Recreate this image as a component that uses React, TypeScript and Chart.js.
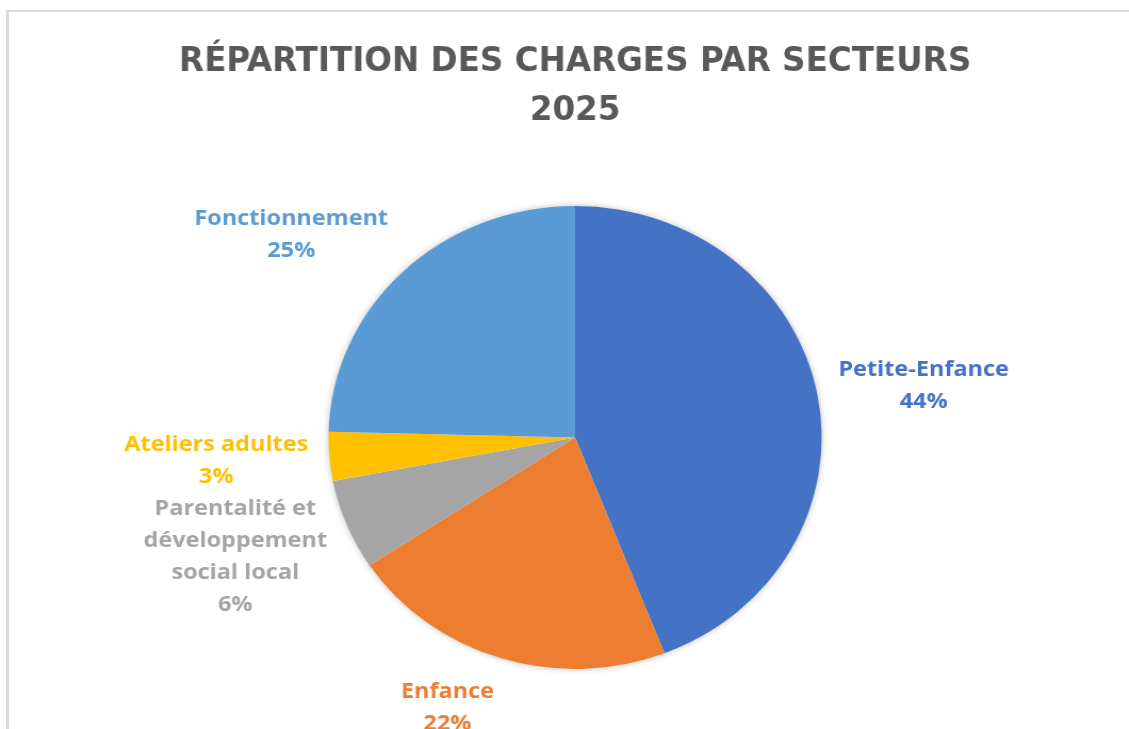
import React, { useEffect, useRef } from 'react';
import { Chart, registerables } from 'chart.js';

Chart.register(...registerables);

// ---- Data ----
const categories: (string | string[])[] = [
  'Petite-Enfance',
  'Enfance',
  ['Parentalité et', 'développement', 'social local'],
  'Ateliers adultes',
  'Fonctionnement',
];
const shares: number[] = [44.1, 21.6, 6.3, 3.4, 24.6];
const sliceColors: string[] = ['#4472C4', '#ED7D31', '#A5A5A5', '#FFC000', '#5B9BD5'];
const titleLines: string[] = ['RÉPARTITION DES CHARGES PAR SECTEURS', '2025'];

// ---- Layout constants ----
const SCALE_X = 1.065;
const CANVAS_W = 1060;
const CANVAS_H = 729;
const LABEL_LINE_H = 32;
const LABEL_GAP = 20;
const LABEL_FONT = 'bold 22px "Open Sans", "DejaVu Sans", sans-serif';

const clamp1 = (v: number) => Math.max(-1, Math.min(1, v));

const pieShadow = {
  id: 'pieShadow',
  beforeDatasetsDraw(chart: any) {
    const el = chart.getDatasetMeta(0).data[0];
    if (!el) return;
    const { x, y, outerRadius } = el.getProps(['x', 'y', 'outerRadius'], true);
    const ctx = chart.ctx as CanvasRenderingContext2D;
    ctx.save();
    ctx.shadowColor = 'rgba(0,0,0,0.28)';
    ctx.shadowBlur = 7;
    ctx.fillStyle = '#ffffff';
    ctx.beginPath();
    ctx.arc(x, y, outerRadius - 0.5, 0, Math.PI * 2);
    ctx.fill();
    ctx.restore();
  },
};

const outsideLabels = {
  id: 'outsideLabels',
  afterDatasetsDraw(chart: any) {
    const meta = chart.getDatasetMeta(0);
    const values = chart.data.datasets[0].data as number[];
    const colors = chart.data.datasets[0].backgroundColor as string[];
    const total = values.reduce((a, b) => a + b, 0);
    const ctx = chart.ctx as CanvasRenderingContext2D;
    ctx.save();
    ctx.font = LABEL_FONT;
    ctx.textAlign = 'center';
    ctx.textBaseline = 'middle';
    meta.data.forEach((el: any, i: number) => {
      const { x, y, startAngle, endAngle, outerRadius } = el.getProps(
        ['x', 'y', 'startAngle', 'endAngle', 'outerRadius'],
        true
      );
      const mid = (startAngle + endAngle) / 2;
      const cos = Math.cos(mid);
      const sin = Math.sin(mid);
      const lab = chart.data.labels[i];
      const lines: string[] = (Array.isArray(lab) ? lab : [lab]).concat([
        Math.round((values[i] / total) * 100) + '%',
      ]);
      const w = Math.max(...lines.map((l) => ctx.measureText(l).width));
      const hw = w / 2;
      const hh = (lines.length * LABEL_LINE_H) / 2;
      const px = x + cos * outerRadius;
      const py = y + sin * outerRadius;
      const cx = px + cos * LABEL_GAP + hw * clamp1(cos * 4);
      const cy = py + sin * LABEL_GAP + hh * sin;
      ctx.fillStyle = colors[i];
      lines.forEach((l, k) => {
        ctx.fillText(l, cx, cy - hh + LABEL_LINE_H / 2 + k * LABEL_LINE_H);
      });
    });
    ctx.restore();
  },
};

export default function App() {
  const canvasRef = useRef<HTMLCanvasElement | null>(null);

  useEffect(() => {
    if (!canvasRef.current) return;
    const chart = new Chart(canvasRef.current, {
      type: 'pie',
      data: {
        labels: categories,
        datasets: [
          {
            data: shares,
            backgroundColor: sliceColors,
            borderWidth: 0,
          },
        ],
      },
      options: {
        responsive: false,
        animation: false,
        devicePixelRatio: 1,
        layout: { padding: { left: 20, right: 0, top: 0, bottom: 60 } },
        plugins: {
          legend: { display: false },
          tooltip: { enabled: false },
          title: {
            display: true,
            text: titleLines,
            color: '#595959',
            font: {
              family: '"DejaVu Sans Condensed", "DejaVu Sans", sans-serif',
              size: 34,
              weight: 'bold',
              lineHeight: 49.5 / 34,
            },
            padding: { top: 37, bottom: 70 },
          },
        },
      },
      plugins: [pieShadow, outsideLabels],
    });
    return () => chart.destroy();
  }, []);

  return (
    <div
      style={{
        position: 'absolute',
        left: 0,
        top: 0,
        width: 1129,
        height: 729,
        overflow: 'hidden',
        background: '#ffffff',
      }}
    >
      <div
        style={{
          position: 'absolute',
          left: 6,
          top: 10,
          width: 1200,
          height: 800,
          borderTop: '2px solid #dadada',
          borderLeft: '3px solid #dcdcdc',
        }}
      />
      <canvas
        ref={canvasRef}
        width={CANVAS_W}
        height={CANVAS_H}
        style={{
          position: 'absolute',
          left: 0,
          top: 0,
          width: CANVAS_W + 'px',
          height: CANVAS_H + 'px',
          transform: `scaleX(${SCALE_X})`,
          transformOrigin: '0 0',
        }}
      />
    </div>
  );
}
